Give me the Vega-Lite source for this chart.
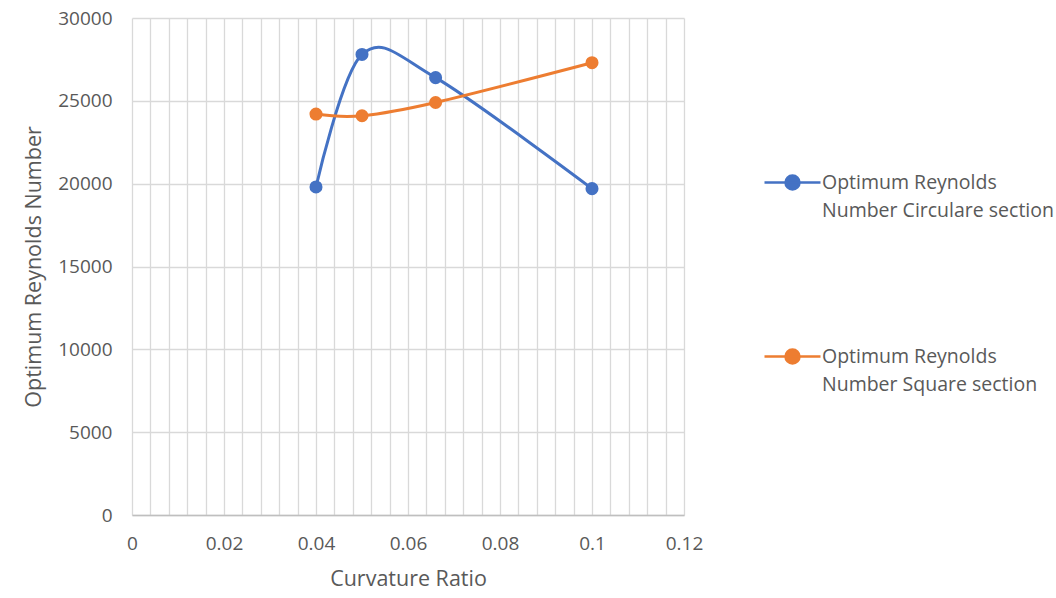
{
  "$schema": "https://vega.github.io/schema/vega-lite/v6.json",
  "width": 552,
  "height": 497,
  "autosize": {"type": "none"},
  "padding": {"left": 132, "top": 18, "right": 372, "bottom": 83},
  "background": "white",
  "config": {
    "view": {"stroke": null},
    "font": "Open Sans",
    "style": {"guide-label": {"lineHeight": 28}},
    "axis": {"labelFont": "Open Sans", "titleFont": "Open Sans", "labelColor": "#595959", "titleColor": "#595959", "labelFontSize": 19, "titleFontSize": 21.5, "titleFontWeight": "normal", "gridColor": "#d9d9d9", "gridWidth": 1.3, "ticks": false}
  },
  "data": {
    "values": [
      {"x": 0.04, "y": 19800, "series": "Optimum Reynolds Number Circulare section"},
      {"x": 0.05, "y": 27800, "series": "Optimum Reynolds Number Circulare section"},
      {"x": 0.066, "y": 26400, "series": "Optimum Reynolds Number Circulare section"},
      {"x": 0.1, "y": 19700, "series": "Optimum Reynolds Number Circulare section"},
      {"x": 0.04, "y": 24200, "series": "Optimum Reynolds Number Square section"},
      {"x": 0.05, "y": 24100, "series": "Optimum Reynolds Number Square section"},
      {"x": 0.066, "y": 24900, "series": "Optimum Reynolds Number Square section"},
      {"x": 0.1, "y": 27300, "series": "Optimum Reynolds Number Square section"}
    ]
  },
  "encoding": {
    "x": {
      "field": "x", "type": "quantitative",
      "scale": {"domain": [0, 0.12], "nice": false},
      "axis": {
        "title": "Curvature Ratio",
        "values": [0, 0.004, 0.008, 0.012, 0.016, 0.02, 0.024, 0.028, 0.032, 0.036, 0.04, 0.044, 0.048, 0.052, 0.056, 0.06, 0.064, 0.068, 0.072, 0.076, 0.08, 0.084, 0.088, 0.092, 0.096, 0.1, 0.104, 0.108, 0.112, 0.116, 0.12],
        "labelExpr": "abs(datum.value*50 - round(datum.value*50)) < 0.000001 ? '' + round(datum.value*100)/100 : ''",
        "labelPadding": 19,
        "titlePadding": 15,
        "domainColor": "#bfbfbf",
        "domainWidth": 1.5,
        "labelFlush": false
      }
    },
    "y": {
      "field": "y", "type": "quantitative",
      "scale": {"domain": [0, 30000], "nice": false},
      "axis": {
        "title": "Optimum Reynolds Number",
        "values": [0, 5000, 10000, 15000, 20000, 25000, 30000],
        "format": "d",
        "domain": false,
        "labelPadding": 20,
        "titlePadding": 12,
        "labelFlush": false
      }
    },
    "color": {
      "field": "series", "type": "nominal",
      "scale": {"domain": ["Optimum Reynolds Number Circulare section", "Optimum Reynolds Number Square section"], "range": ["#4472c4", "#ed7d31"]},
      "legend": {
        "title": null,
        "orient": "none",
        "legendX": 631,
        "legendY": 135,
        "symbolType": "M-1,0L1,0M-0.25,0A0.25,0.25,0,1,0,0.25,0A0.25,0.25,0,1,0,-0.25,0Z",
        "symbolSize": 3136,
        "symbolStrokeWidth": 2.5,
        "labelFont": "Open Sans",
        "labelFontSize": 19.5,
        "labelColor": "#595959",
        "labelOffset": 0,
        "labelLimit": 400,
        "rowPadding": 107,
        "labelExpr": "indexof(datum.label, 'Circulare') >= 0 ? ['Optimum Reynolds', 'Number Circulare section'] : ['Optimum Reynolds', 'Number Square section']",
        "labelBaseline": "middle",
        "encoding": {
          "labels": {"update": {"dy": {"value": 14}, "lineHeight": {"value": 28}}},
          "symbols": {"update": {"fill": {"field": "value", "scale": "color"}}}
        }
      }
    }
  },
  "layer": [
    {"mark": {"type": "line", "interpolate": "cardinal", "tension": 0, "strokeWidth": 3}},
    {"mark": {"type": "point", "filled": true, "opacity": 1, "size": 170}}
  ]
}
